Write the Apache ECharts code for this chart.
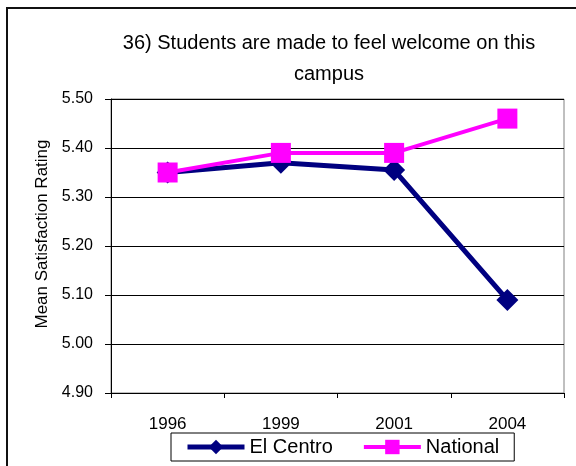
<!DOCTYPE html>
<html><head><meta charset="utf-8">
<script src="https://cdn.jsdelivr.net/npm/echarts@6/dist/echarts.min.js"></script>
<style>html,body{margin:0;padding:0;background:#fff}#c{width:576px;height:466px}</style>
</head><body><div id="c"></div>
<script>
const categories = ['1996', '1999', '2001', '2004'];
const elCentro = [5.35, 5.37, 5.355, 5.09];
const national = [5.35, 5.39, 5.39, 5.46];
const yTicks = ['4.90','5.00','5.10','5.20','5.30','5.40','5.50'];

const FONT = "'Liberation Sans',Arial,sans-serif";
const chart = echarts.init(document.getElementById('c'), null, {renderer:'canvas'});
chart.setOption({
  animation: false,
  backgroundColor: '#fff',
  title: {
    text: '36) Students are made to feel welcome on this\ncampus',
    left: 324, top: 23, textAlign: 'center',
    textStyle: {fontFamily: FONT, fontSize: 20, fontWeight: 'normal', color: '#000', lineHeight: 31}
  },
  graphic: [{
    type: 'rect', shape: {x: 7, y: 8, width: 640, height: 520},
    style: {fill: 'none', stroke: '#111', lineWidth: 2}, silent: true
  }],
  legend: {
    left: 171, top: 433,
    padding: [4, 15, 4, 14],
    itemWidth: 57, itemHeight: 18, itemGap: 29,
    borderColor: '#000', borderWidth: 1,
    textStyle: {fontFamily: FONT, fontSize: 20, color: '#000'},
    data: [
      {name: 'El Centro', lineStyle: {width: 5, color: '#000080'}},
      {name: 'National', lineStyle: {width: 4, color: '#FF00FF'}}
    ]
  },
  grid: {left: 111, right: 12, top: 99, bottom: 73, show: true, borderColor: '#808080', borderWidth: 1, containLabel: false},
  xAxis: {
    type: 'category', data: categories, boundaryGap: true,
    axisLine: {lineStyle: {color: '#000', width: 1}},
    axisTick: {show: true, length: 5, inside: false, lineStyle: {color: '#000'}},
    axisLabel: {fontFamily: FONT, fontSize: 17, color: '#000', margin: 23},
    splitLine: {show: false}
  },
  yAxis: {
    type: 'value', min: 4.9, max: 5.5, interval: 0.1,
    name: 'Mean Satisfaction Rating', nameLocation: 'middle', nameGap: 59,
    nameTextStyle: {fontFamily: FONT, fontSize: 17, color: '#000', padding: [0, 0, 0, 24]},
    axisLine: {show: true, lineStyle: {color: '#000', width: 1}},
    axisTick: {show: true, length: 6, lineStyle: {color: '#000'}},
    axisLabel: {fontFamily: FONT, fontSize: 16, color: '#000', margin: 18,
      formatter: v => yTicks[Math.round((v - 4.9) * 10)] || v.toFixed(2)},
    splitLine: {show: true, lineStyle: {color: '#000', width: 1}}
  },
  series: [
    {name: 'El Centro', type: 'line', data: elCentro, symbol: 'diamond', symbolSize: 22,
      lineStyle: {color: '#000080', width: 5}, itemStyle: {color: '#000080'}, z: 2},
    {name: 'National', type: 'line', data: national, symbol: 'rect', symbolSize: 20,
      lineStyle: {color: '#FF00FF', width: 4}, itemStyle: {color: '#FF00FF'}, z: 3}
  ]
});
</script></body></html>
